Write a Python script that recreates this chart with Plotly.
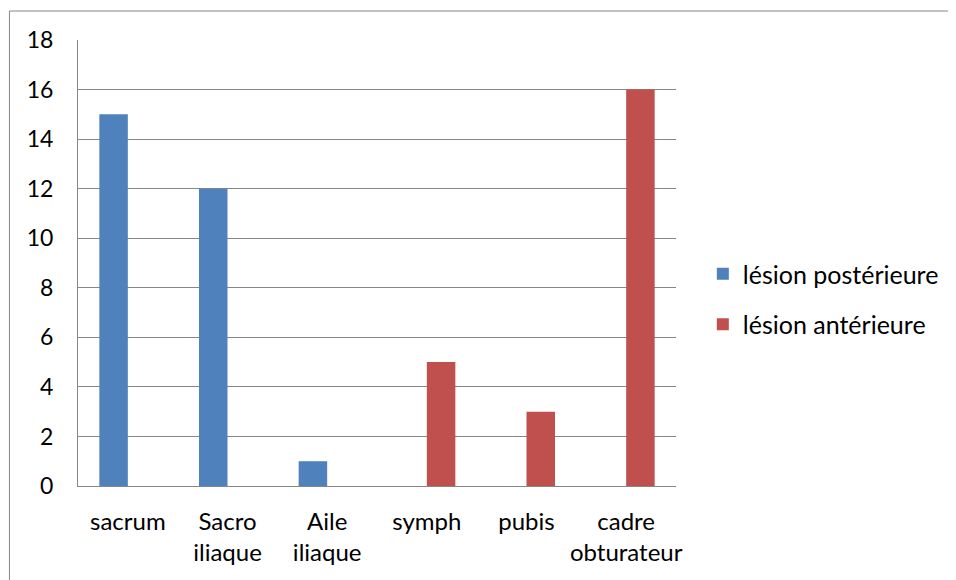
import plotly.graph_objects as go

categories = ["sacrum", "Sacro<br>iliaque", "Aile<br>iliaque", "symph", "pubis", "cadre<br>obturateur"]
posterieure = [15, 12, 1, 0, 0, 0]
anterieure = [0, 0, 0, 5, 3, 16]
series_names = ["lésion postérieure", "lésion antérieure"]
y_ticks = list(range(0, 19, 2))

FONT = "Lato"
GRAY = "#868686"

fig = go.Figure()
fig.add_trace(go.Bar(x=categories, y=posterieure, name=series_names[0],
                     marker=dict(color="#4F81BD", line=dict(width=0)), legendgroup="a"))
fig.add_trace(go.Bar(x=categories, y=anterieure, name=series_names[1],
                     marker=dict(color="#C0504D", line=dict(width=0)), legendgroup="b"))

# target positions in screen pixels; page body has an 8px margin
OFF = 8
L, R, T, B = 78, 680, 40, 486
W, H = 956 - OFF, 580 - OFF
pw, ph = R - L, B - T

def px_x(v):
    return (v - L) / pw

def px_y(v):
    return (B - v) / ph

fig.update_layout(
    width=W, height=H,
    margin=dict(l=L - OFF, r=W - (R - OFF), t=T - OFF, b=H - (B - OFF), pad=0),
    paper_bgcolor="white", plot_bgcolor="white",
    barmode="group", bargap=0.428, bargroupgap=0,
    font=dict(family=FONT, size=23, color="#000000"),
    showlegend=True,
    legend=dict(x=px_x(707), y=px_y(299), xanchor="left", yanchor="middle",
                font=dict(family=FONT, size=25, color="#000000"),
                tracegroupgap=15, traceorder="grouped", bgcolor="rgba(0,0,0,0)"),
    xaxis=dict(showgrid=False, showline=True, linecolor=GRAY, linewidth=1,
               ticks="", ticklabelstandoff=14, tickfont=dict(family=FONT, size=24)),
    yaxis=dict(range=[0, 18], tickvals=y_ticks, showgrid=True, gridcolor=GRAY, gridwidth=1,
               showline=True, linecolor=GRAY, linewidth=1, zeroline=False,
               ticks="", ticklabelstandoff=19, tickfont=dict(family=FONT, size=23)),
    shapes=[dict(type="rect", xref="paper", yref="paper",
                 x0=px_x(9), x1=px_x(970), y0=px_y(600), y1=px_y(11),
                 line=dict(color=GRAY, width=1), fillcolor="rgba(0,0,0,0)", layer="below")],
)

fig.write_html("out.html")
